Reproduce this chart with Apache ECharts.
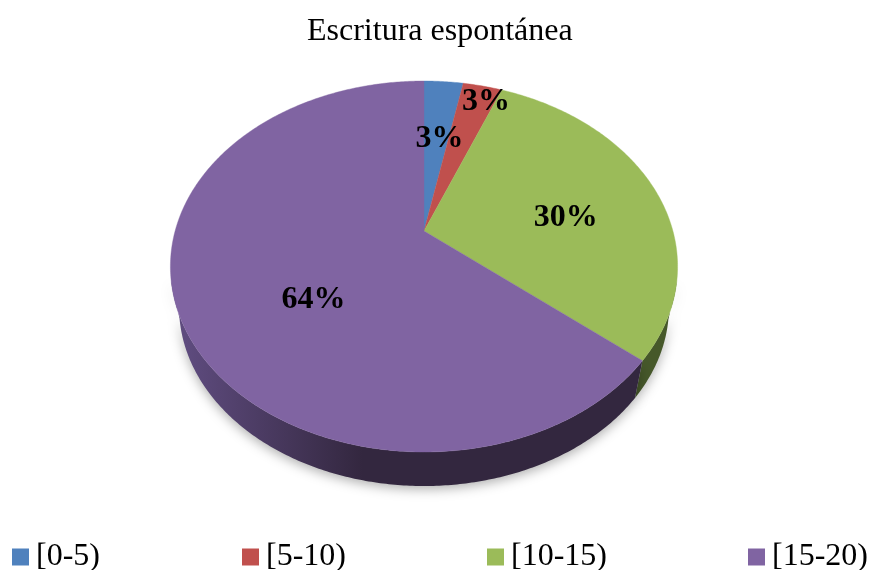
<!DOCTYPE html>
<html><head><meta charset="utf-8">
<style>html,body{margin:0;padding:0;background:#fff}#c{width:872px;height:570px}</style>
<script src="https://cdn.jsdelivr.net/npm/echarts@6/dist/echarts.min.js"></script>
</head><body><div id="c"></div>
<script>
const titleText = 'Escritura espontánea';
const categories = ['[0-5)', '[5-10)', '[10-15)', '[15-20)'];
const shares = [3, 3, 30, 64];

const colors = ['#4f81bd', '#c0504d', '#9bbb59', '#8064a2'];
const wallColors = [
  ['#2f4d71', '#2f4d71'], ['#733030', '#733030'], ['#4a5c28', '#46582a'], ['#5e4b7e', '#33273f']
];
const legendLeft = [12, 242, 487, 748];
// label placement: fraction of radius along mid-angle, then nudge dx, dy
const labelPlace = [[0.6, 3, 4], [0.85, 11, -3], [0.6, 1, 13], [0.5, 7, 29]];

// perspective disc: apex of the slices, radius and foreshortening
const P = {cx: 424, cy: 231, rx: 248.9, ry: 178.7, k: 0.1914};
// lower rim of the disc, derived from the upper one
const B = {topCy: 266.5, cy: 307, sx: 0.966, sy: 0.965};
const total = shares.reduce((a, b) => a + b, 0);

function pt(theta, f) {
  const u = Math.sin(theta) * f, v = Math.cos(theta) * f, d = 1 + P.k * v;
  return [P.cx + P.rx * u / d, P.cy - P.ry * v / d];
}
function low(p) {
  return [P.cx + (p[0] - P.cx) * B.sx, B.cy + (p[1] - B.topCy) * B.sy];
}
function renderSlice(index, value) {
  let before = 0;
  for (let i = 0; i < index; i++) before += shares[i];
  const a0 = before / total * 2 * Math.PI, a1 = (before + value) / total * 2 * Math.PI;
  const n = Math.max(4, Math.ceil((a1 - a0) / 0.01));
  const rim = [], front = [];
  for (let i = 0; i <= n; i++) {
    const t = a0 + (a1 - a0) * i / n, p = pt(t, 1);
    rim.push(p);
    if (Math.cos(t) < -0.25) front.push(p);   // only the near side of the disc shows a wall
  }
  const mid = (a0 + a1) / 2, lp = labelPlace[index], c = pt(mid, lp[0]);
  const children = [
    {type: 'polygon', z2: 10, shape: {points: [[P.cx, P.cy]].concat(rim)},
      style: {fill: colors[index], stroke: colors[index], lineWidth: 0.4}},
    {type: 'text', z2: 20, x: c[0] + lp[1], y: c[1] + lp[2], style: {
      text: Math.round(value / total * 100) + '%', fill: '#000',
      font: 'bold 32px "Liberation Serif"', align: 'center', verticalAlign: 'middle'
    }}
  ];
  if (front.length > 1) {
    children.push({type: 'polygon', z2: 1,
      shape: {points: front.concat(front.slice().reverse().map(low))}, style: {
      fill: {type: 'linear', x: 170, y: 0, x2: 677, y2: 0, global: true, colorStops: [
        {offset: 0.03, color: wallColors[index][0]},
        {offset: 0.38, color: wallColors[index][1]},
        {offset: 1, color: wallColors[index][1]}]},
      shadowBlur: 12, shadowColor: 'rgba(0,0,0,0.32)', shadowOffsetY: 3
    }});
  }
  return {type: 'group', children};
}

const chart = echarts.init(document.getElementById('c'), null, {renderer: 'canvas'});
chart.setOption({
  animation: false,
  backgroundColor: '#fff',
  title: {text: titleText, left: 302, top: 11,
    textStyle: {fontFamily: 'Liberation Serif', fontWeight: 'normal', fontSize: 32, color: '#000'}},
  legend: categories.map((name, i) => ({
    data: [name], left: legendLeft[i], top: 541, padding: 0, icon: 'rect', itemWidth: 17, itemHeight: 17,
    selectedMode: false,
    textStyle: {fontFamily: 'Liberation Serif', fontSize: 32, color: '#000', padding: [3, 0, 0, 2]}
  })),
  series: categories.map((name, i) => ({
    type: 'custom', name, coordinateSystem: 'none', silent: true,
    itemStyle: {color: colors[i]},
    data: [[shares[i]]],
    renderItem: (params, api) => renderSlice(i, api.value(0))
  }))
});
</script></body></html>
